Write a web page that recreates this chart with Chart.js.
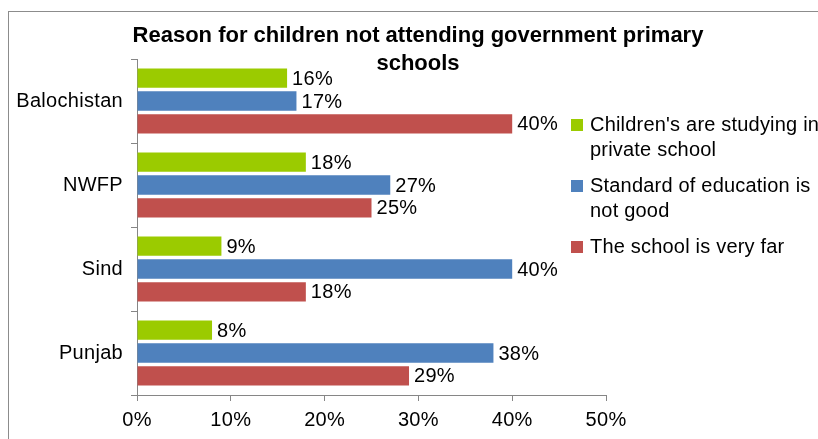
<!DOCTYPE html>
<html>
<head>
<meta charset="utf-8">
<script src="https://cdn.jsdelivr.net/npm/chart.js@4.4.1/dist/chart.umd.min.js"></script>
<style>
    html, body { margin: 0; padding: 0; background: #fff; }
    body { width: 818px; height: 439px; overflow: hidden; position: relative;
           font-family: "Liberation Sans", Arial, sans-serif; }
    #frame { position: absolute; left: 8px; top: 11px; width: 900px; height: 500px;
             border: 1px solid #8c8c8c; box-sizing: border-box; }
    #chart { position: absolute; left: 0; top: 0; }
    #title { position: absolute; left: 68px; width: 700px; top: 21px; text-align: center;
             font-weight: bold; font-size: 22px; line-height: 28px; color: #000; }
    #legend { position: absolute; left: 571px; top: 112px; font-size: 20px;
              letter-spacing: 0.2px; line-height: 25px; color: #000; }
    #legend .item { position: relative; padding-left: 19px; width: 234px; margin-bottom: 11px; }
    #legend .box { position: absolute; left: 0; top: 7px; width: 12px; height: 12px; }
</style>
</head>
<body>
<div id="frame"></div>
<canvas id="chart" width="818" height="439"></canvas>
<div id="title"></div>
<div id="legend"></div>

<script>
/* ---------------- дані ---------------- */

const titleLines = ["Reason for children not attending government primary", "schools"];

const provinces = ["Balochistan", "NWFP", "Sind", "Punjab"];

const seriesNames = [
    "Children's are studying in private school",
    "Standard of education is not good",
    "The school is very far"
];
const seriesColors = ["#9bcb00", "#4f81bd", "#c0504d"];

// відсотки, по провінціях зверху вниз
const privateSchool = [16, 18, 9, 8];
const badStandard   = [17, 27, 40, 38];
const schoolFar     = [40, 25, 18, 29];

const xTicks = [0, 10, 20, 30, 40, 50];

/* ---------------- заголовок і легенда ---------------- */

document.getElementById("title").innerHTML = titleLines.join("<br>");

const legendEl = document.getElementById("legend");
seriesNames.forEach((name, i) => {
    const item = document.createElement("div");
    item.className = "item";
    const box = document.createElement("span");
    box.className = "box";
    box.style.background = seriesColors[i];
    item.appendChild(box);
    item.appendChild(document.createTextNode(name));
    legendEl.appendChild(item);
});

/* ---------------- графік ---------------- */

const FONT = { family: "'Liberation Sans', Arial, sans-serif", size: 20 };
const AXIS_GRAY = "#868686";

// трохи ширший інтервал між літерами, як у Excel
const spacingPlugin = {
    id: "spacing",
    beforeUpdate(chart) { chart.ctx.letterSpacing = "0.3px"; },
    beforeDraw(chart) { chart.ctx.letterSpacing = "0.3px"; }
};

// підписи значень праворуч від стовпчиків
const valueLabels = {
    id: "valueLabels",
    afterDatasetsDraw(chart) {
        const ctx = chart.ctx;
        ctx.save();
        ctx.font = FONT.size + "px " + FONT.family;
        ctx.fillStyle = "#000";
        ctx.textAlign = "left";
        ctx.textBaseline = "middle";
        chart.data.datasets.forEach((ds, di) => {
            chart.getDatasetMeta(di).data.forEach((bar, i) => {
                ctx.fillText(ds.data[i] + "%", bar.x + 5, bar.y + 1);
            });
        });
        ctx.restore();
    }
};

const datasets = [privateSchool, badStandard, schoolFar].map((vals, i) => ({
    label: seriesNames[i],
    data: vals,
    backgroundColor: seriesColors[i],
    borderWidth: 0,
    categoryPercentage: 0.82,
    barPercentage: 0.84
}));

new Chart(document.getElementById("chart"), {
    type: "bar",
    data: { labels: provinces, datasets: datasets },
    options: {
        indexAxis: "y",
        responsive: false,
        devicePixelRatio: 1,
        animation: false,
        layout: { padding: { top: 59, left: 8, right: 212, bottom: 0 } },
        plugins: {
            legend: { display: false },
            title: { display: false },
            tooltip: { enabled: false }
        },
        scales: {
            x: {
                min: xTicks[0],
                max: xTicks[xTicks.length - 1],
                afterFit(scale) { scale.height = 44; },
                afterBuildTicks(scale) { scale.ticks = xTicks.map(v => ({ value: v })); },
                ticks: {
                    font: FONT,
                    color: "#000",
                    padding: 7,
                    maxRotation: 0,
                    callback: v => v + "%"
                },
                grid: { drawOnChartArea: false, tickLength: 6, color: AXIS_GRAY },
                border: { color: AXIS_GRAY }
            },
            y: {
                afterFit(scale) { scale.width = 129; },
                ticks: { font: FONT, color: "#000", padding: 8 },
                grid: { drawOnChartArea: false, tickLength: 6, color: AXIS_GRAY, offset: true },
                border: { color: AXIS_GRAY }
            }
        }
    },
    plugins: [spacingPlugin, valueLabels]
});
</script>
</body>
</html>
